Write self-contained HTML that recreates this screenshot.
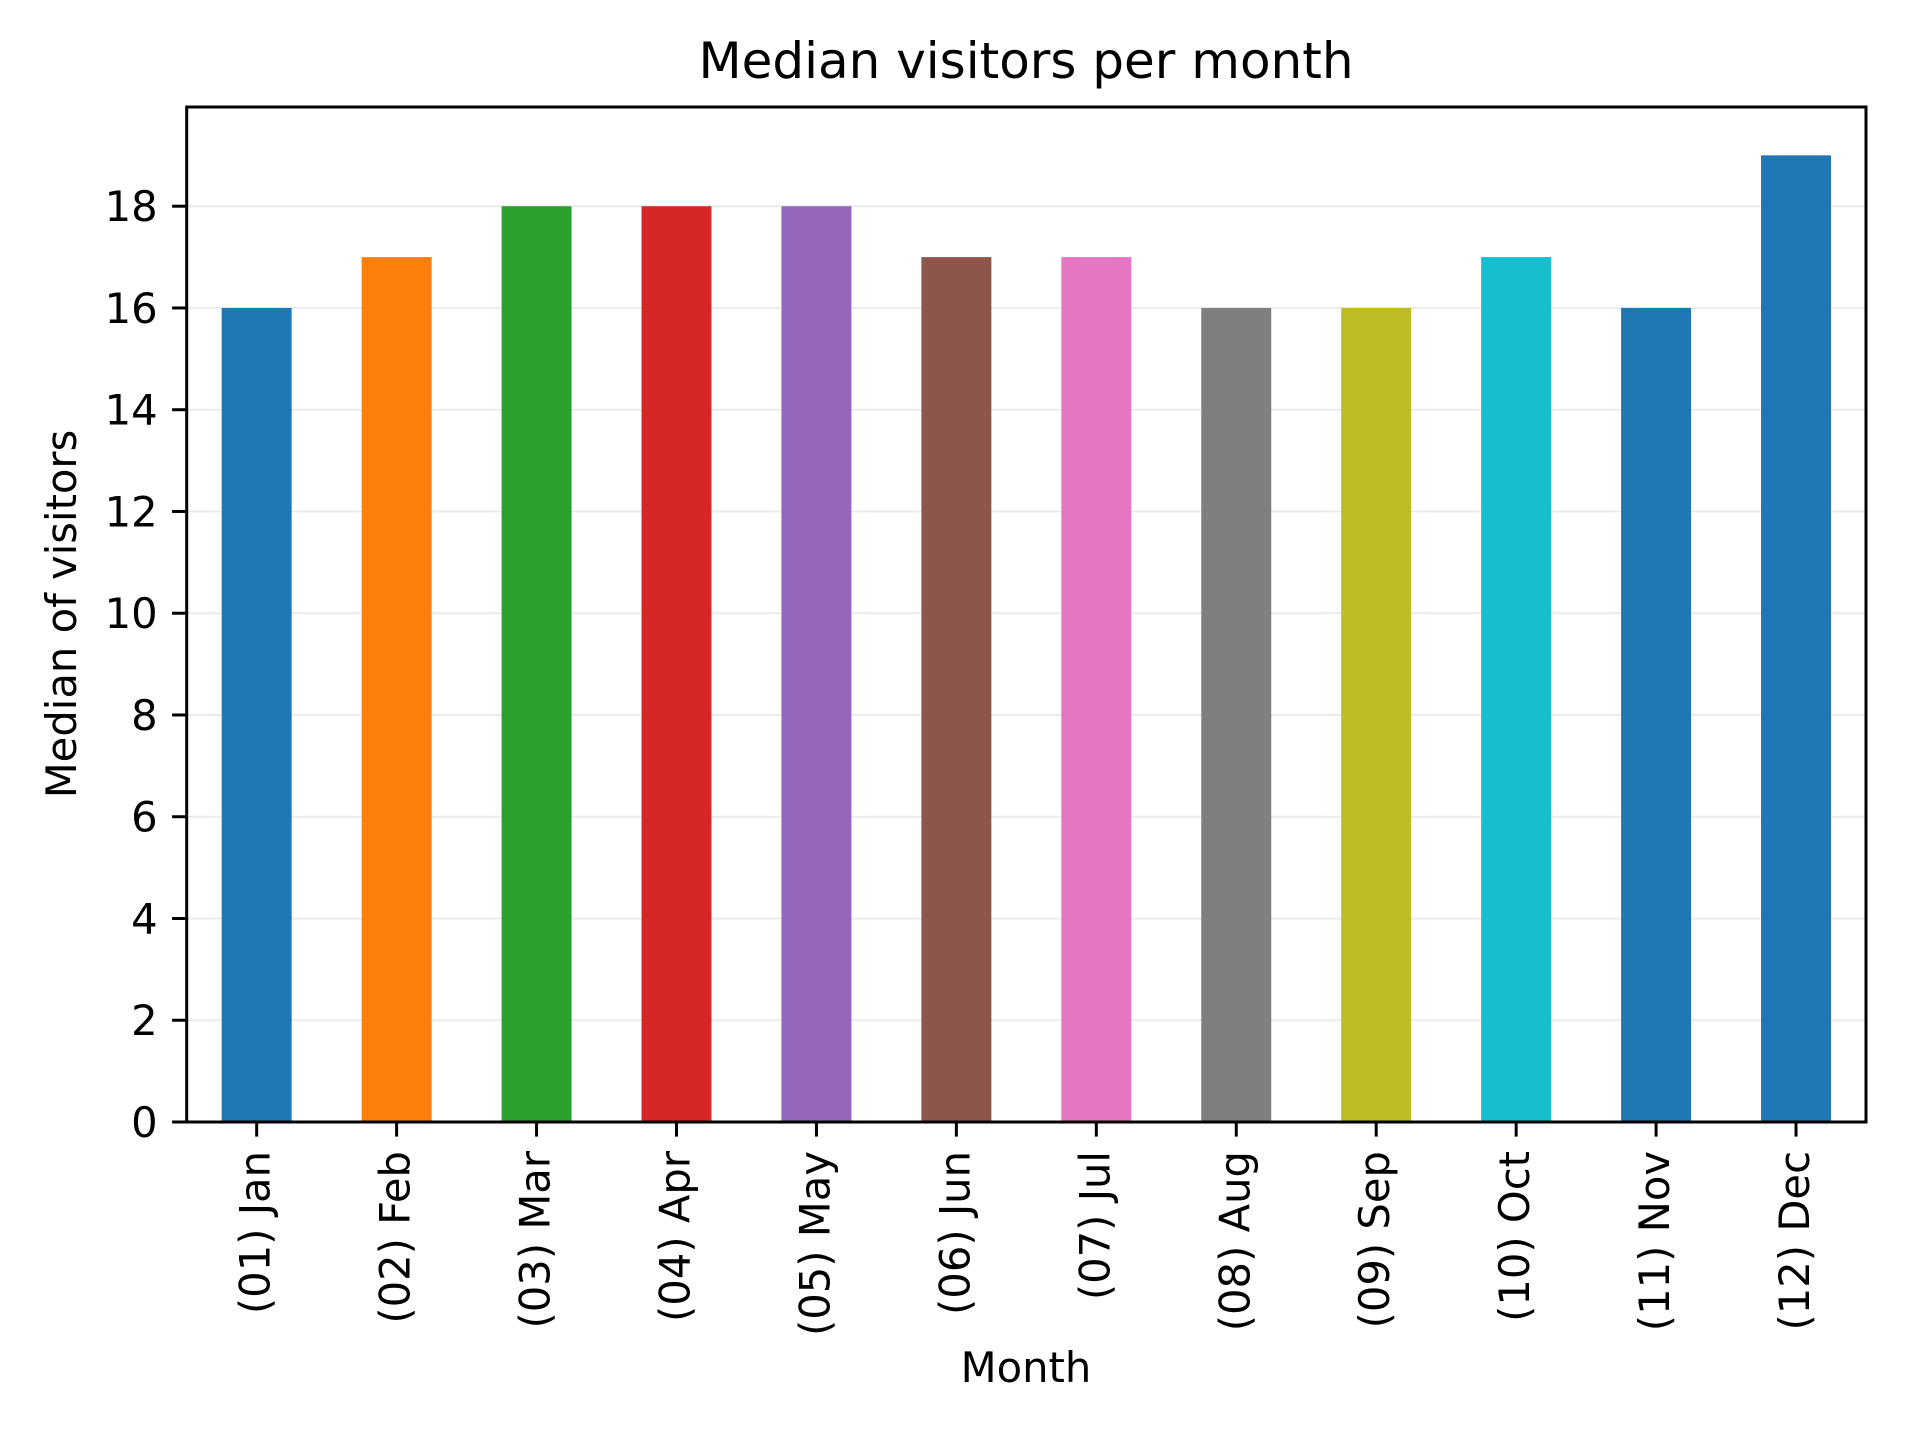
<!DOCTYPE html>
<html><head><meta charset="utf-8"><style>
html,body{margin:0;padding:0;background:#fff}
svg{display:block}
text{font-family:"DejaVu Sans","Liberation Sans",sans-serif;fill:#000}
</style></head><body>
<svg id="chart" width="1920" height="1440" viewBox="0 0 1920 1440">
<rect width="1920" height="1440" fill="#fff"/>
<g id="grid"></g><g id="bars"></g><g id="axes"></g>
<text x="1026" y="78" font-size="50" text-anchor="middle">Median visitors per month</text>
<text x="1026" y="1382" font-size="41.7" text-anchor="middle">Month</text>
<text transform="translate(76,614) rotate(-90)" font-size="41.7" text-anchor="middle">Median of visitors</text>
</svg>
<script>
const categories=["(01) Jan","(02) Feb","(03) Mar","(04) Apr","(05) May","(06) Jun","(07) Jul","(08) Aug","(09) Sep","(10) Oct","(11) Nov","(12) Dec"];
const values=[16,17,18,18,18,17,17,16,16,17,16,19];
const colors=["#1f77b4","#ff7f0e","#2ca02c","#d62728","#9467bd","#8c564b","#e377c2","#7f7f7f","#bcbd22","#17becf","#1f77b4","#1f77b4"];
const yTicks=[0,2,4,6,8,10,12,14,16,18];
const NS="http://www.w3.org/2000/svg";
const L=186.7,R=1866,T=107,B=1122;
const ymax=Math.max(...values)*1.05;
const y=v=>B-(v/ymax)*(B-T);
const step=(R-L)/categories.length;
const x=i=>L+step*(i+0.5);
function mk(tag,attrs,parent){const e=document.createElementNS(NS,tag);for(const k in attrs)e.setAttribute(k,attrs[k]);parent.appendChild(e);return e;}
const grid=document.getElementById('grid'),bars=document.getElementById('bars'),axes=document.getElementById('axes');
yTicks.forEach(t=>{
 const g=mk('line',{x1:L,x2:R,y1:y(t),y2:y(t),stroke:'#ebebeb','stroke-width':2},grid);
 
 
 const tk=mk('line',{x1:L-14.6,x2:L,y1:y(t),y2:y(t),stroke:'#000','stroke-width':3},axes);
 
 
 const tx=mk('text',{x:L-29,y:y(t)+15,'font-size':41.7,'text-anchor':'end'},axes);
 tx.textContent=t;
 
 
});
values.forEach((v,i)=>{
 const w=step*0.5;
 const r=mk('rect',{x:x(i)-w/2,y:y(v),width:w,height:B-y(v),fill:colors[i]},bars);
 
 
 const tk=mk('line',{x1:x(i),x2:x(i),y1:B,y2:B+14.6,stroke:'#000','stroke-width':3},axes);
 
 
 const tx=mk('text',{transform:`translate(${x(i)+13},${B+29}) rotate(-90)`,'font-size':41.7,'text-anchor':'end'},axes);
 tx.textContent=categories[i];
 
 
});
const f=mk('rect',{x:L,y:T,width:R-L,height:B-T,fill:'none',stroke:'#000','stroke-width':3},axes);


</script>
</body></html>
